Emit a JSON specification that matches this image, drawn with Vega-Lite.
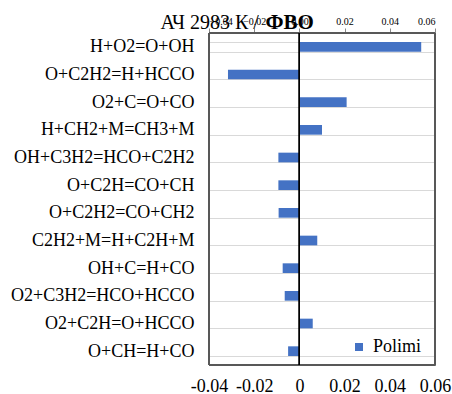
{
  "$schema": "https://vega.github.io/schema/vega-lite/v6.json",
  "width": 226,
  "height": 332,
  "autosize": "none",
  "padding": {"left": 209, "top": 33, "right": 17, "bottom": 29},
  "config": {
    "font": "Liberation Serif",
    "style": {"guide-label": {"font": "Liberation Serif"}, "guide-title": {"font": "Liberation Serif"}},
    "view": {"stroke": "#595959", "strokeWidth": 1}
  },
  "data": {
    "values": [
      {"reaction": "H+O2=O+OH", "value": 0.0539, "series": "Polimi"},
      {"reaction": "O+C2H2=H+HCCO", "value": -0.0316, "series": "Polimi"},
      {"reaction": "O2+C=O+CO", "value": 0.0209, "series": "Polimi"},
      {"reaction": "H+CH2+M=CH3+M", "value": 0.0100, "series": "Polimi"},
      {"reaction": "OH+C3H2=HCO+C2H2", "value": -0.0093, "series": "Polimi"},
      {"reaction": "O+C2H=CO+CH", "value": -0.0093, "series": "Polimi"},
      {"reaction": "O+C2H2=CO+CH2", "value": -0.0092, "series": "Polimi"},
      {"reaction": "C2H2+M=H+C2H+M", "value": 0.0079, "series": "Polimi"},
      {"reaction": "OH+C=H+CO", "value": -0.0074, "series": "Polimi"},
      {"reaction": "O2+C3H2=HCO+HCCO", "value": -0.0065, "series": "Polimi"},
      {"reaction": "O2+C2H=O+HCCO", "value": 0.0059, "series": "Polimi"},
      {"reaction": "O+CH=H+CO", "value": -0.0050, "series": "Polimi"}
    ]
  },
  "resolve": {"axis": {"x": "independent"}},
  "layer": [
    {
      "mark": {"type": "bar", "color": "#4472C4"},
      "encoding": {
        "y": {
          "field": "reaction",
          "type": "nominal",
          "sort": null,
          "scale": {"paddingInner": 0.65, "paddingOuter": 0.325},
          "axis": {
            "title": "АЧ 2983 К /",
            "titleFont": "Liberation Serif",
            "titleFontSize": 20,
            "titleFontWeight": "normal",
            "titleColor": "#000000",
            "titleAngle": 0,
            "titleAlign": "left",
            "titleBaseline": "alphabetic",
            "titleAnchor": "start",
            "titleX": -49,
            "titleY": -5,
            "domain": false,
            "ticks": false,
            "tickBand": "extent",
            "labelFont": "Liberation Serif",
            "labelFontSize": 18,
            "labelColor": "#000000",
            "labelPadding": 15,
            "labelLimit": 300,
            "grid": true,
            "gridColor": "#d9d9d9",
            "gridWidth": 1,
            "encode": {"labels": {"update": {"font": {"value": "Liberation Serif"}}}}
          }
        },
        "x": {
          "field": "value",
          "type": "quantitative",
          "scale": {"domain": [-0.04, 0.06], "nice": false},
          "axis": {
            "title": null,
            "values": [-0.04, -0.02, 0, 0.02, 0.04, 0.06],
            "format": "~g",
            "labelExpr": "replace(datum.label, '−', '-')",
            "domain": false,
            "ticks": false,
            "grid": false,
            "labelFont": "Liberation Serif",
            "labelFontSize": 18,
            "labelColor": "#000000",
            "labelPadding": 12,
            "labelFlush": false,
            "encode": {"labels": {"update": {"font": {"value": "Liberation Serif"}}}}
          }
        },
        "color": {
          "field": "series",
          "type": "nominal",
          "scale": {"range": ["#4472C4"]},
          "legend": {
            "title": null,
            "orient": "none",
            "legendX": 141,
            "legendY": 305,
            "symbolType": "square",
            "symbolSize": 64,
            "symbolStrokeWidth": 0,
            "labelFont": "Liberation Serif",
            "labelFontSize": 18,
            "labelColor": "#000000",
            "labelOffset": 5,
            "encode": {"labels": {"update": {"font": {"value": "Liberation Serif"}}}}
          }
        }
      }
    },
    {
      "mark": {"type": "rect", "fill": "transparent", "stroke": "#595959", "strokeWidth": 1},
      "encoding": {
        "x": {"datum": -0.04, "type": "quantitative"},
        "x2": {"datum": 0.06}
      }
    },
    {
      "mark": {"type": "rule", "color": "#000000", "strokeWidth": 1},
      "encoding": {
        "x": {
          "datum": 0,
          "type": "quantitative",
          "axis": {
            "orient": "top",
            "labels": false,
            "ticks": false,
            "domain": false,
            "grid": false,
            "title": "ФВО",
            "titleFont": "Liberation Serif",
            "titleFontSize": 21,
            "titleFontWeight": "bold",
            "titleColor": "#000000",
            "titleAnchor": "start",
            "titleAlign": "left",
            "titleBaseline": "alphabetic",
            "titleX": 56,
            "titleY": -5
          }
        }
      }
    }
  ]
}
